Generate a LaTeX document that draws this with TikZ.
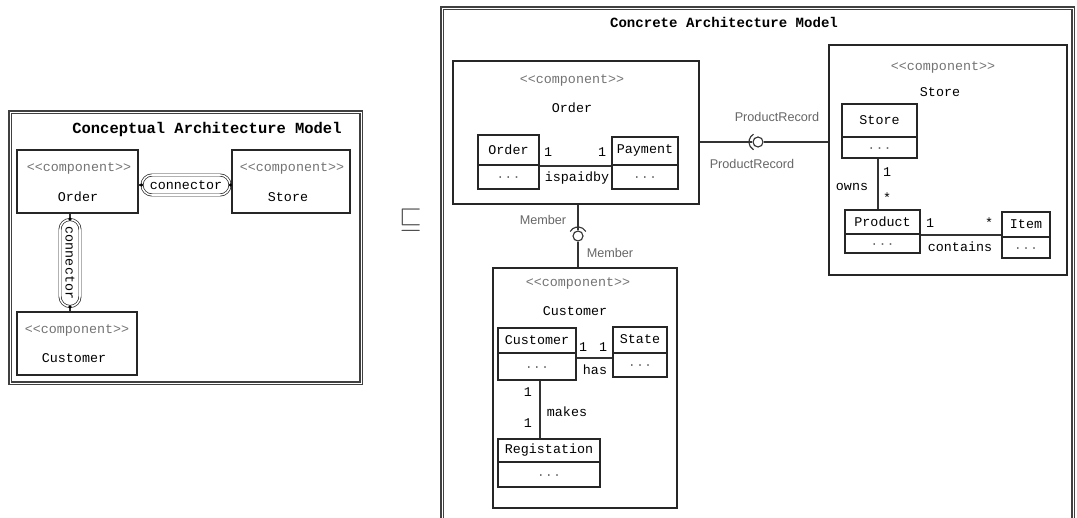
\documentclass[tikz,border=0pt]{standalone}
\usepackage{fontspec}
\newfontfamily\umlmono{Liberation Mono}
\newfontfamily\umlsans{Liberation Sans}
\usetikzlibrary{calc,shapes.misc}
\newcommand{\upx}{0.025cm}
% class box: id, x, y, w, h, name, divider offset
\newcommand{\umlclass}[7]{%
  \node[classbox, minimum width=#4*\upx, minimum height=#5*\upx] (#1) at (#2,#3) {};
  \draw[classbox] ($(#1.west)+(0,#7)$) -- ($(#1.east)+(0,#7)$);
  \node at ($(#1.north)+(0,{#5/4+#7/2})$) {#6};
  \node[stereo] at ($(#1.south)+(0,{-#5/4+#7/2})$) {...};
}

\begin{document}
\begin{tikzpicture}[x=\upx, y=-\upx,
  every node/.style={font=\umlmono\fontsize{9.5}{11}\selectfont, inner sep=0pt},
  modelframe/.style={draw=black!75, line width=0.8pt, double=white, double distance=0.7pt},
  compbox/.style={draw=black!85, line width=0.9pt},
  classbox/.style={draw=black!85, line width=0.8pt},
  stereo/.style={text=black!55},
  ifacelabel/.style={font=\umlsans\fontsize{9}{11}\selectfont, text=black!60},
  pill/.style={draw=black!85, rounded rectangle, double, double distance=1.1pt, line width=0.5pt, minimum height=20*\upx},
  ball/.style={draw=black!80, circle, fill=white, line width=0.8pt, minimum size=10*\upx},
  link/.style={draw=black!80, line width=0.8pt}]
\useasboundingbox (0,0) rectangle (1077,518);

% conceptual model
\node[modelframe, minimum width=351*\upx, minimum height=271*\upx] (cmodel) at (185.5,247.5) {};
\node[font=\umlmono\bfseries\fontsize{11}{13}\selectfont] (ctitle) at (207,130) {Conceptual Architecture Model};

\node[compbox, minimum width=121*\upx, minimum height=63*\upx] (lOrder) at (77.5,181.5) {};
\node[stereo] at (79,168) {<{}<component>{}>};
\node at (78,197) {Order};
\node[compbox, minimum width=118*\upx, minimum height=63*\upx] (lStore) at (291,181.5) {};
\node[stereo] at (292,168) {<{}<component>{}>};
\node at (288,197) {Store};
\node[compbox, minimum width=120*\upx, minimum height=63*\upx] (lCustomer) at (77,343.5) {};
\node[stereo] at (77,330) {<{}<component>{}>};
\node at (74,358) {Customer};

\node[pill, minimum width=88*\upx] (pillH) at (186,185) {connector};
\draw[link] (lOrder.east |- pillH) -- (pillH.west);
\draw[link] (pillH.east) -- (lStore.west |- pillH);
\fill (pillH.west) circle[radius=1.3pt];
\fill (pillH.east) circle[radius=1.3pt];
\node[pill, minimum width=87*\upx, rotate=-90] (pillV) at (70,263) {connector};
\draw[link] (lOrder.south -| pillV) -- (pillV.west);
\draw[link] (pillV.east) -- (lCustomer.north -| pillV);
\fill (pillV.west) circle[radius=1.3pt];
\fill (pillV.east) circle[radius=1.3pt];

% refinement
\node[font=\fontsize{20}{24}\selectfont, text=black!70] (refines) at (411,220) {$\sqsubseteq$};

% concrete model
\coordinate (rmodelBL) at (442,540);
\coordinate (rmodelTR) at (1073,8);
\draw[modelframe] (rmodelBL) |- (rmodelTR) -- (1073,540);
\node[font=\umlmono\bfseries\fontsize{10}{12}\selectfont] (rtitle) at (724,22) {Concrete Architecture Model};

% Order component
\node[compbox, minimum width=246*\upx, minimum height=143*\upx] (cOrder) at (576,132.5) {};
\node[stereo] at (572,80) {<{}<component>{}>};
\node at (572,108) {Order};
\umlclass{clsOrder}{508.5}{162}{61}{54}{Order}{3}
\umlclass{clsPayment}{645}{163}{66}{52}{Payment}{2}
\draw[link] (clsOrder.east |- 0,166) -- (clsPayment.west |- 0,166);
\node at (548,152) {1};
\node at (602,152) {1};
\node at (577,178) {ispaidby};

% Store component
\node[compbox, minimum width=238*\upx, minimum height=230*\upx] (cStore) at (948,160) {};
\node[stereo] at (943,67) {<{}<component>{}>};
\node at (940,92) {Store};
\umlclass{clsStore}{879.5}{131}{75}{54}{Store}{6}
\umlclass{clsProduct}{882.5}{231.5}{75}{43}{Product}{2.5}
\umlclass{clsItem}{1026}{235}{48}{46}{Item}{2}
\draw[link] (clsStore.south -| 878,0) -- (clsProduct.north -| 878,0);
\node at (887,172) {1};
\node at (887,198) {*};
\node at (852,187) {owns};
\draw[link] (clsProduct.east |- 0,235) -- (clsItem.west |- 0,235);
\node at (930,223) {1};
\node at (989,223) {*};
\node at (960,247) {contains};

% Customer component
\node[compbox, minimum width=184*\upx, minimum height=240*\upx] (cCustomer) at (585,388) {};
\node[stereo] at (578,283) {<{}<component>{}>};
\node at (575,311) {Customer};
\umlclass{clsCustomer}{537}{354}{78}{52}{Customer}{-1}
\umlclass{clsState}{640}{352}{54}{50}{State}{1}
\umlclass{clsRegistation}{549}{463}{102}{48}{Registation}{-1}
\draw[link] (clsCustomer.east |- 0,358) -- (clsState.west |- 0,358);
\node at (583,347) {1};
\node at (603,347) {1};
\node at (595,370) {has};
\draw[link] (clsCustomer.south -| 540,0) -- (clsRegistation.north -| 540,0);
\node at (528,392) {1};
\node at (528,423) {1};
\node at (567,412) {makes};

% provided / required interfaces
\node[ball] (prBall) at (758,142) {};
\draw[link] (cOrder.east |- prBall) -- (prBall.west);
\draw[link] (prBall.east) -- (cStore.west |- prBall);
\draw[black!80, line width=0.8pt] ($(prBall)+(-4.5,-7.8)$) arc[start angle=120, end angle=240, radius=9*\upx];
\node[ifacelabel] at (777,117) {ProductRecord};
\node[ifacelabel] at (752,164) {ProductRecord};

\node[ball] (mBall) at (578,236) {};
\draw[link] (cOrder.south -| mBall) -- (mBall.north);
\draw[link] (mBall.south) -- (cCustomer.north -| mBall);
\draw[black!80, line width=0.8pt] ($(mBall)+(-7.8,-4.5)$) arc[start angle=150, end angle=30, radius=9*\upx];
\node[ifacelabel] at (543,220) {Member};
\node[ifacelabel] at (610,253) {Member};
\end{tikzpicture}
\end{document}
